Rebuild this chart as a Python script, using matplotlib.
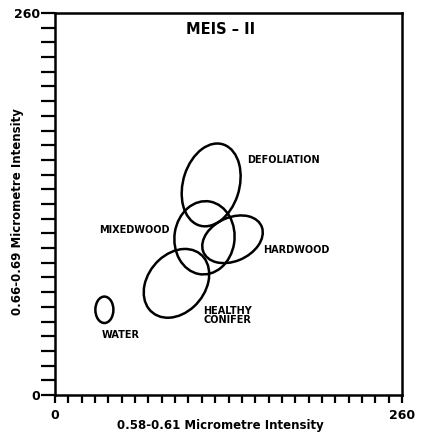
# MEIS-II feature space ellipses

import matplotlib.pyplot as plt
from matplotlib.patches import Ellipse

# classes: centre (x, y), width, height, angle  -- in intensity units
classes = ["DEFOLIATION", "MIXEDWOOD", "HARDWOOD", "HEALTHY\nCONIFER", "WATER"]
cx = [117, 112, 133, 91, 37]
cy = [143, 107, 106, 76, 58]
widths = [42, 45, 47, 54, 13.5]
heights = [58, 50, 30, 41, 18]
angles = [-20, -10, 20, 40, 0]

# label positions
lx = [144, 86, 156, 111, 35]
ly = [160, 112, 99, 54, 41]
lha = ["left", "right", "left", "left", "left"]

xticks = list(range(0, 261, 10))
yticks = list(range(0, 261, 10))

plt.rcParams['font.family'] = 'DejaVu Sans'
plt.rcParams['font.weight'] = 'bold'

fig = plt.figure(figsize=(4.27, 4.37), dpi=100)
ax = fig.add_axes([0.1288, 0.0961, 0.8127, 0.8741])
ax.set_xlim(0, 260)
ax.set_ylim(0, 260)

for i in range(len(classes)):
    e = Ellipse((cx[i], cy[i]), widths[i], heights[i], angle=angles[i],
                fill=False, edgecolor='black', lw=1.8)
    ax.add_patch(e)
    ax.text(lx[i], ly[i], classes[i], ha=lha[i], va='center', fontsize=7,
            fontweight='bold', linespacing=0.8)

ax.text(124, 249, "MEIS – II", ha='center', va='center', fontsize=10.5, fontweight='bold')

ax.set_xticks(xticks)
ax.set_yticks(yticks)
ax.set_xticklabels(["0" if t == 0 else ("260" if t == 260 else "") for t in xticks])
ax.set_yticklabels(["0" if t == 0 else ("260" if t == 260 else "") for t in yticks])
ax.tick_params(axis='y', direction='out', length=10, width=1.6, labelsize=9, pad=1)
ax.tick_params(axis='x', direction='out', length=6, width=1.6, labelsize=9, pad=4)
for s in ax.spines.values():
    s.set_linewidth(1.8)

fig.text(220 / 427, 1 - 425 / 437, "0.58-0.61 Micrometre Intensity", ha='center', va='center',
         fontsize=8.5, fontweight='bold')
fig.text(18 / 427, 1 - 212 / 437, "0.66-0.69 Micrometre Intensity", ha='center', va='center',
         rotation=90, fontsize=8.5, fontweight='bold')

plt.savefig("out.png", dpi=100)
